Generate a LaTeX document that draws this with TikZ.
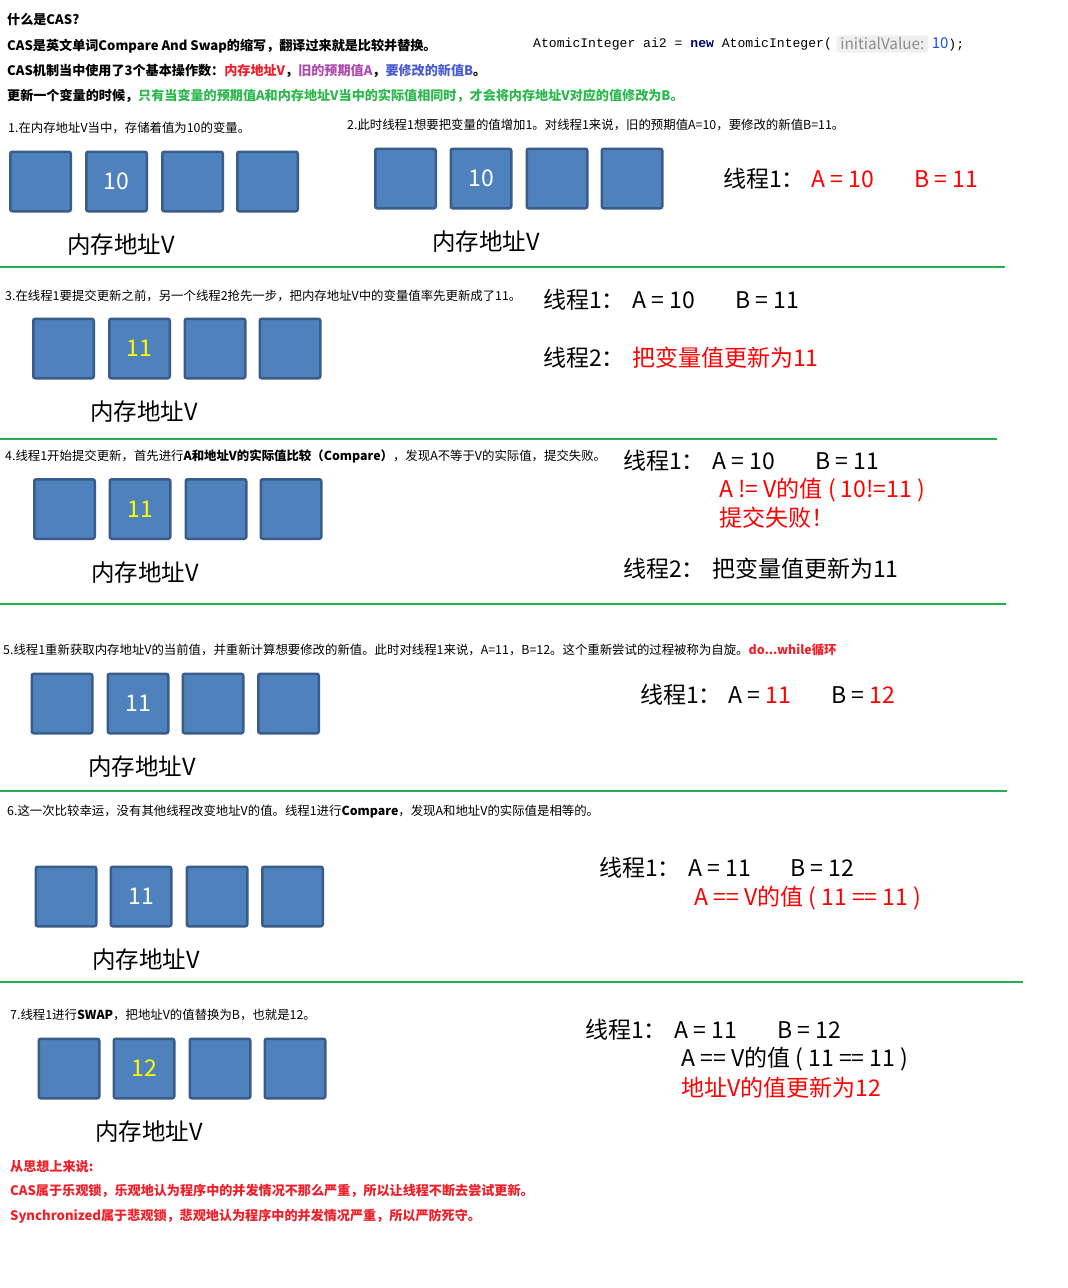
\documentclass[tikz,border=0pt]{standalone}
\usepackage{fontspec}
\setmainfont{Noto Sans CJK SC}
\setmonofont{Liberation Mono}
\newcommand\fs[1]{\fontsize{#1}{#1}\selectfont}
\definecolor{cellfill}{HTML}{4F81BD}
\definecolor{cellborder}{HTML}{385D8A}
\definecolor{sepgreen}{HTML}{22B14C}
\definecolor{hred}{HTML}{F0202A}
\definecolor{hpurple}{HTML}{B04AB0}
\definecolor{hblue}{HTML}{4A5BD5}
\definecolor{hgreen}{HTML}{2DB84D}
\definecolor{navy}{HTML}{000080}
\definecolor{numblue}{HTML}{1750EB}
\definecolor{hintgray}{HTML}{8C8C8C}
\definecolor{hintbg}{HTML}{EFEFEF}
\definecolor{valyellow}{HTML}{FFFF00}
\definecolor{txtred}{HTML}{FF0000}
\tikzset{
  memcell/.style={draw=cellborder, fill=cellfill, line width=2.5pt, rounded corners=2pt,
    minimum width=60.5pt, minimum height=59.5pt, inner sep=0pt, text=white, font=\fs{23}},
  headline/.style={anchor=west, inner sep=0pt, font=\fs{13.1}\bfseries},
  stepnote/.style={anchor=west, inner sep=0pt, font=\fs{12.4}},
  biglabel/.style={inner sep=0pt, font=\fs{23.5}},
  threadtxt/.style={anchor=west, inner sep=0pt, font=\fs{23}},
  sepline/.style={draw=sepgreen, line width=2.5pt},
  redbold/.style={anchor=west, inner sep=0pt, font=\fs{13.1}\bfseries, text=hred},
}
\newcommand\memrow[8]{%
  \node[memcell] (#1a) at (#3,#2) {};
  \node[memcell,text=#8] (#1b) at (#4,#2) {#7};
  \node[memcell] (#1c) at (#5,#2) {};
  \node[memcell] (#1d) at (#6,#2) {};
}
\begin{document}
\begin{tikzpicture}[x=1pt,y=-1pt]
\fill[white] (0,0) rectangle (1068,1288);
\useasboundingbox (0,0) rectangle (1068,1288);

% header
\node[headline] (q) at (7,20) {什么是CAS?};
\node[headline] (h1) at (7,46) {CAS是英文单词Compare And Swap的缩写，翻译过来就是比较并替换。};
\node[headline] (h2) at (7,71) {CAS机制当中使用了3个基本操作数：{\color{hred}内存地址V}，{\color{hpurple}旧的预期值A}，{\color{hblue}要修改的新值B}。};
\node[headline] (h3) at (7,96) {更新一个变量的时候，{\color{hgreen}只有当变量的预期值A和内存地址V当中的实际值相同时，才会将内存地址V对应的值修改为B。}};

% code line
\node[anchor=west, inner sep=0pt, font=\fs{13.1}\ttfamily] (code1) at (533,44) {AtomicInteger ai2 = {\color{navy}\bfseries new} AtomicInteger(};
\node[anchor=west, fill=hintbg, rounded corners=3pt, inner xsep=4pt, inner ysep=2.5pt, text=hintgray, font=\fs{15.3}] (hint) at ([xshift=4pt]code1.east) {initialValue:};
\node[anchor=west, inner sep=0pt, font=\fs{13.1}\ttfamily] (code2) at ([xshift=3pt]hint.east) {{\color{numblue}\fs{15}\rmfamily 10});};

% section 1
\node[stepnote] (s1) at (8,128) {1.在内存地址V当中，存储着值为10的变量。};
\memrow{ra}{181.5}{40.5}{116.5}{192.5}{267.5}{10}{white}
\node[biglabel] (la) at (121,245) {内存地址V};

% section 2
\node[stepnote] (s2) at (347,125) {2.此时线程1想要把变量的值增加1。对线程1来说，旧的预期值A=10，要修改的新值B=11。};
\memrow{rb}{178.5}{405.5}{481}{557}{632}{10}{white}
\node[biglabel] (lb) at (486,242) {内存地址V};
\node[threadtxt] (t2a) at (723,179) {线程1：};
\node[threadtxt,text=txtred] (t2b) at (811,179) {A = 10};
\node[threadtxt,text=txtred] (t2c) at (914,179) {B = 11};

\draw[sepline] (0,267) -- (1005,267);

% section 3
\node[stepnote] (s3) at (5,296) {3.在线程1要提交更新之前，另一个线程2抢先一步，把内存地址V中的变量值率先更新成了11。};
\memrow{rc}{348.5}{63.5}{139.5}{215}{290}{11}{valyellow}
\node[biglabel] (lc) at (144,412) {内存地址V};
\node[threadtxt] (t3a) at (543,300) {线程1：};
\node[threadtxt] (t3b) at (632,300) {A = 10};
\node[threadtxt] (t3c) at (735,300) {B = 11};
\node[threadtxt] (t3d) at (543,358) {线程2：};
\node[threadtxt,text=txtred] (t3e) at (632,358) {把变量值更新为11};

\draw[sepline] (0,439) -- (997,439);

% section 4
\node[stepnote] (s4) at (5,456) {4.线程1开始提交更新，首先进行{\bfseries A和地址V的实际值比较（Compare）}，发现A不等于V的实际值，提交失败。};
\memrow{rd}{509}{64.5}{140}{216}{291}{11}{valyellow}
\node[biglabel] (ld) at (145,573) {内存地址V};
\node[threadtxt] (t4a) at (623,461) {线程1：};
\node[threadtxt] (t4b) at (712,461) {A = 10};
\node[threadtxt] (t4c) at (815,461) {B = 11};
\node[threadtxt,text=txtred] (t4d) at (719,490) {A != V的值 ( 10!=11 )};
\node[threadtxt,text=txtred] (t4e) at (719,518) {提交失败！};
\node[threadtxt] (t4f) at (623,569) {线程2：};
\node[threadtxt] (t4g) at (712,569) {把变量值更新为11};

\draw[sepline] (0,604) -- (1006,604);

% section 5
\node[stepnote] (s5) at (3,650) {5.线程1重新获取内存地址V的当前值，并重新计算想要修改的新值。此时对线程1来说，A=11，B=12。这个重新尝试的过程被称为自旋。{\bfseries\color{hred}do...while循环}};
\memrow{re}{703.5}{62}{138}{213}{288.5}{11}{white}
\node[biglabel] (le) at (142,767) {内存地址V};
\node[threadtxt] (t5a) at (640,695) {线程1：};
\node[threadtxt] (t5b) at (728,695) {A = {\color{txtred}11}};
\node[threadtxt] (t5c) at (831,695) {B = {\color{txtred}12}};

\draw[sepline] (0,791) -- (1007,791);

% section 6
\node[stepnote] (s6) at (7,812) {6.这一次比较幸运，没有其他线程改变地址V的值。线程1进行{\bfseries Compare}，发现A和地址V的实际值是相等的。};
\memrow{rf}{896.5}{66}{141}{217}{292.5}{11}{white}
\node[biglabel] (lf) at (146,960) {内存地址V};
\node[threadtxt] (t6a) at (599,868) {线程1：};
\node[threadtxt] (t6b) at (688,868) {A = 11};
\node[threadtxt] (t6c) at (790,868) {B = 12};
\node[threadtxt,text=txtred] (t6d) at (694,898) {A == V的值 ( 11 == 11 )};

\draw[sepline] (0,982) -- (1023,982);

% section 7
\node[stepnote] (s7) at (10,1015) {7.线程1进行{\bfseries SWAP}，把地址V的值替换为B，也就是12。};
\memrow{rg}{1068.5}{69}{144}{220}{295}{12}{valyellow}
\node[biglabel] (lg) at (149,1132) {内存地址V};
\node[threadtxt] (t7a) at (585,1030) {线程1：};
\node[threadtxt] (t7b) at (674,1030) {A = 11};
\node[threadtxt] (t7c) at (777,1030) {B = 12};
\node[threadtxt] (t7d) at (681,1059) {A == V的值 ( 11 == 11 )};
\node[threadtxt,text=txtred] (t7e) at (681,1088) {地址V的值更新为12};

% conclusion
\node[redbold] (c1) at (10,1166) {从思想上来说:};
\node[redbold] (c2) at (10,1191) {CAS属于乐观锁，乐观地认为程序中的并发情况不那么严重，所以让线程不断去尝试更新。};
\node[redbold] (c3) at (10,1216) {Synchronized属于悲观锁，悲观地认为程序中的并发情况严重，所以严防死守。};
\end{tikzpicture}
\end{document}
